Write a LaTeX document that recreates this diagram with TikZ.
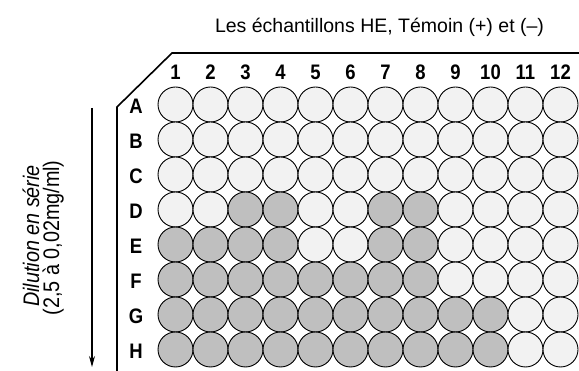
\documentclass[tikz,border=0pt]{standalone}
\usepackage{fontspec}
\setmainfont{Liberation Sans}
\newfontfamily\narrowfont[FakeStretch=0.88]{Liberation Sans}
\usetikzlibrary{arrows.meta}
\definecolor{welllight}{HTML}{F2F2F2}
\definecolor{welldark}{HTML}{BFBFBF}
\begin{document}
\begin{tikzpicture}[x=1pt,y=-1pt,
  well/.style={circle,draw=black,line width=0.9pt,minimum size=35pt,inner sep=0pt},
  wl/.style={well,fill=welllight},
  wd/.style={well,fill=welldark},
  colnum/.style={font=\narrowfont\fontsize{21}{21}\selectfont\bfseries,inner sep=0pt,anchor=base},
  rowlab/.style={font=\narrowfont\fontsize{21}{21}\selectfont\bfseries,inner sep=0pt},
  title/.style={font=\fontsize{19.5}{19.5}\selectfont,inner sep=0pt,anchor=base},
  sidetxt/.style={font=\narrowfont\fontsize{22.5}{22.5}\selectfont,inner sep=0pt,rotate=90,anchor=base},
  plate/.style={line width=1.6pt},
  dilarrow/.style={line width=1.2pt,-{Stealth[length=11pt,width=6pt]}}]
\useasboundingbox (0,0) rectangle (579,371);
\fill[white] (0,0) rectangle (579,371);
% plate outline
\coordinate (pTR) at (579,53);
\coordinate (pTL) at (172,53);
\coordinate (pDL) at (117,107);
\coordinate (pBL) at (117,371);
\draw[plate] (pTR) -- (pTL) -- (pDL) -- (pBL);
% title
\node[title] (title) at (379.5,32.3) {Les échantillons HE, Témoin (+) et (–)};
% column numbers
\foreach \c in {1,...,12}{
  \node[colnum] (col\c) at ({175.5+35*(\c-1)},80) {\c};
}
% rows of wells
\foreach \r/\L/\pat in {1/A/{0,0,0,0,0,0,0,0,0,0,0,0},
                        2/B/{0,0,0,0,0,0,0,0,0,0,0,0},
                        3/C/{0,0,0,0,0,0,0,0,0,0,0,0},
                        4/D/{0,0,1,1,0,0,1,1,0,0,0,0},
                        5/E/{1,1,1,1,0,0,1,1,0,0,0,0},
                        6/F/{1,1,1,1,1,1,1,1,0,0,0,0},
                        7/G/{1,1,1,1,1,1,1,1,1,1,0,0},
                        8/H/{1,1,1,1,1,1,1,1,1,1,0,0}}{
  \node[rowlab] (row\L) at (136,{106+35*(\r-1)}) {\L};
  \foreach \c in {1,...,12}{
    \pgfmathtruncatemacro{\bit}{{\pat}[\c-1]}
    \ifnum\bit=1
      \node[wd] (w\L\c) at ({175.5+35*(\c-1)},{104.5+35*(\r-1)}) {};
    \else
      \node[wl] (w\L\c) at ({175.5+35*(\c-1)},{104.5+35*(\r-1)}) {};
    \fi
  }
}
% dilution arrow
\coordinate (aTop) at (92,108);
\coordinate (aBot) at (92,367);
\draw[dilarrow] (aTop) -- (aBot);
\node[sidetxt] (side1) at (39,236) {\itshape Dilution en série};
\node[sidetxt] (side2) at (59,238) {(2,5 à 0,02mg/ml)};
\end{tikzpicture}
\end{document}
